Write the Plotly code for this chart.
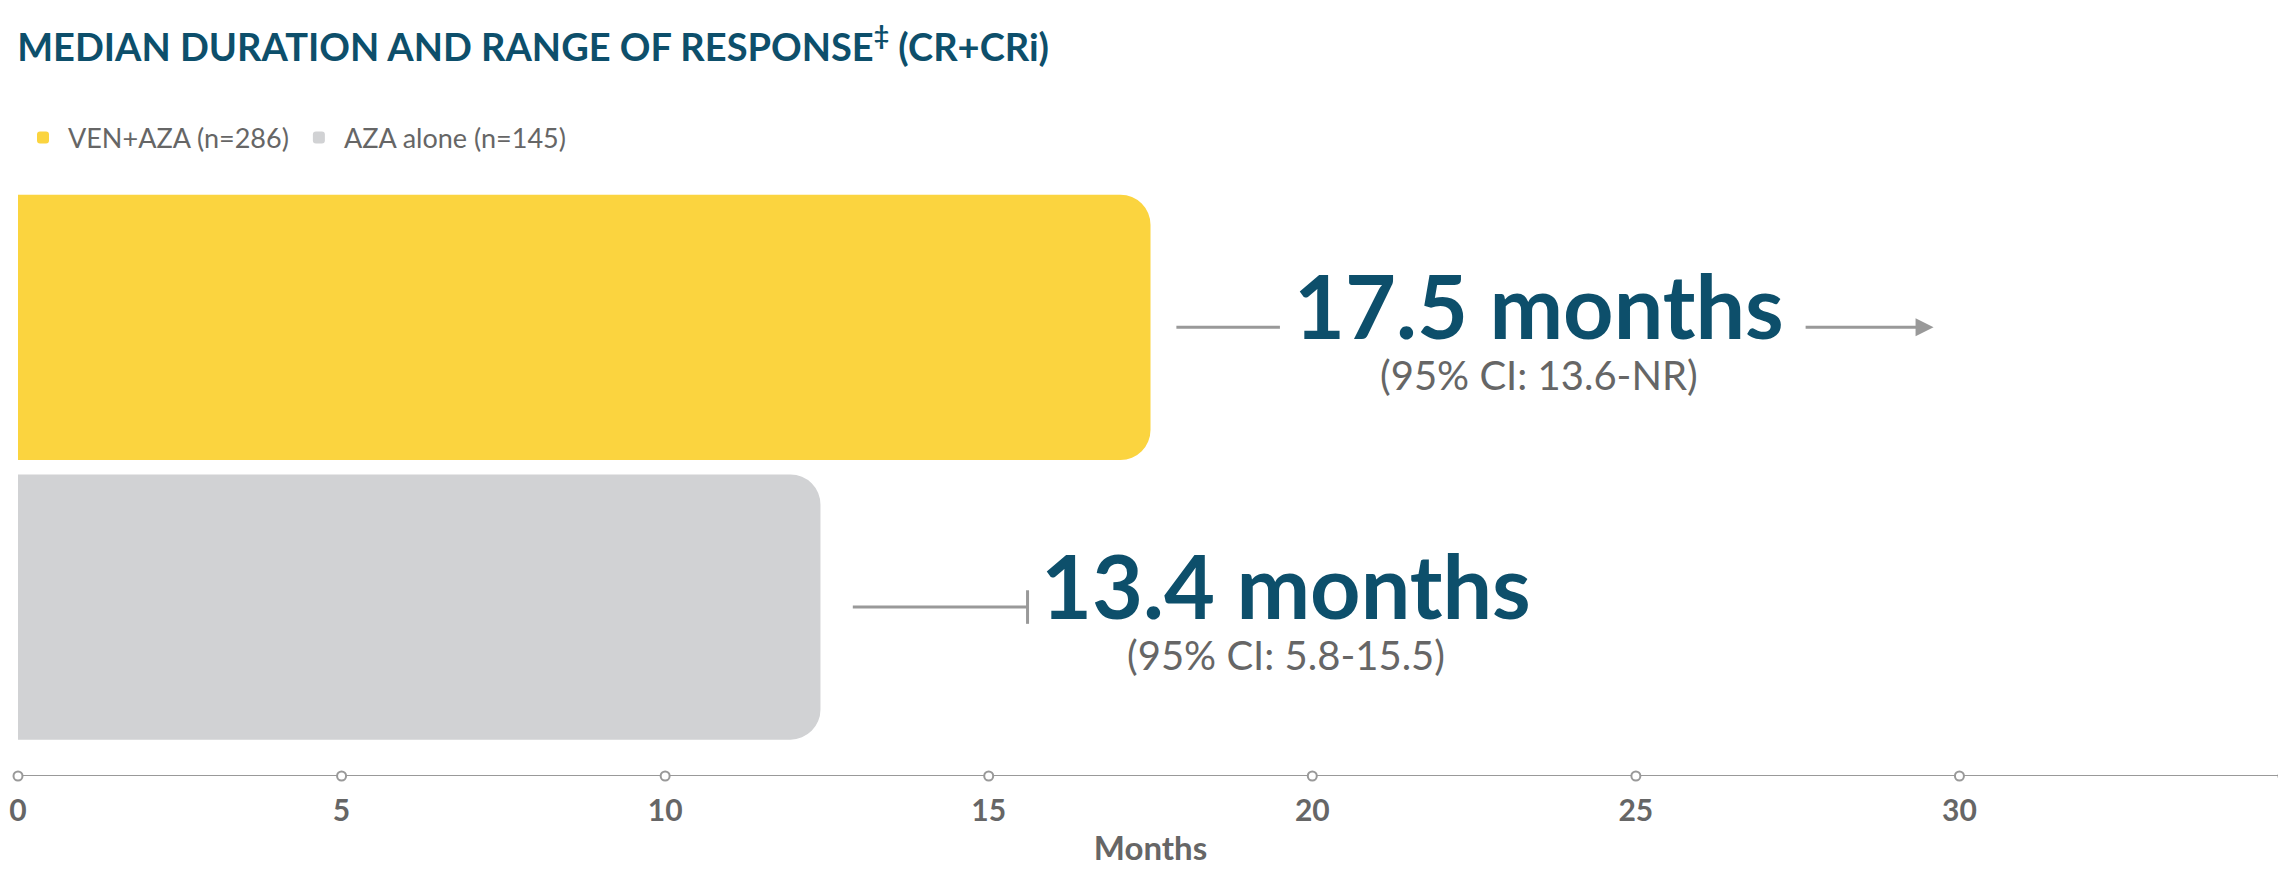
import plotly.graph_objects as go

groups = ["VEN+AZA (n=286)", "AZA alone (n=145)"]
bar_months = [17.5, 12.4]
bar_pos = [1, 0]
colors = ["#fbd43f", "#d1d2d4"]
medians = ["17.5 months", "13.4 months"]
ci_texts = ["(95% CI: 13.6-NR)", "(95% CI: 5.8-15.5)"]
label_x = [23.5, 19.6]
# range line segments (start, end) per group; gap left for the label
seg1 = [(17.9, 19.5), (12.9, 15.6)]
seg2 = [(27.6, 29.6), None]
ticks = [0, 5, 10, 15, 20, 25, 30, 35]

teal = "#0d4f6b"
grey = "#999999"
ybot = -0.604

fig = go.Figure()
for g, v, p, c in zip(groups, bar_months, bar_pos, colors):
    fig.add_trace(go.Bar(x=[v], y=[p], orientation="h", name=g, width=0.948,
                         marker=dict(color=c, line_width=0), hoverinfo="skip"))

for i, p in enumerate(bar_pos):
    a, b = seg1[i]
    fig.add_trace(go.Scatter(x=[a, b], y=[p, p], mode="lines", showlegend=False,
                             line=dict(color=grey, width=3), hoverinfo="skip"))
    fig.add_annotation(x=label_x[i], y=p + 0.08, text="<b>" + medians[i] + "</b>",
                       showarrow=False, font=dict(size=88, color=teal, family="Lato"))
    fig.add_annotation(x=label_x[i], y=p - 0.17, text=ci_texts[i], showarrow=False,
                       font=dict(size=40, color="#666666", family="Lato"))
    if seg2[i]:
        a2, b2 = seg2[i]
        fig.add_annotation(x=b2, y=p, ax=a2, ay=p, axref="x", ayref="y", text="",
                           showarrow=True, arrowhead=2, arrowsize=1.2, arrowwidth=3,
                           arrowcolor=grey)
    else:
        fig.add_trace(go.Scatter(x=[b, b], y=[p - 0.06, p + 0.06], mode="lines",
                                 showlegend=False, line=dict(color=grey, width=3),
                                 hoverinfo="skip"))

fig.add_trace(go.Scatter(x=[0, 35], y=[ybot, ybot], mode="lines", showlegend=False,
                         line=dict(color=grey, width=2), cliponaxis=False, hoverinfo="skip"))
fig.add_trace(go.Scatter(x=ticks, y=[ybot] * len(ticks), mode="markers", showlegend=False,
                         marker=dict(size=9, color="white", line=dict(color=grey, width=2)),
                         cliponaxis=False, hoverinfo="skip"))

fig.update_layout(
    width=2286, height=891, plot_bgcolor="white", paper_bgcolor="white",
    margin=dict(l=10, r=11, t=175, b=123, autoexpand=False),
    barmode="overlay", barcornerradius=30,
    title=dict(text="<b>MEDIAN DURATION AND RANGE OF RESPONSE<sup>‡</sup> (CR+CRi)</b>",
               x=0.004, xanchor="left", y=0.955, yanchor="middle",
               font=dict(size=38, color=teal, family="Lato")),
    legend=dict(orientation="h", x=0, y=1.076, xanchor="left", yanchor="middle",
                font=dict(size=27, color="#666666", family="Lato"), itemsizing="constant",
                itemwidth=40, tracegroupgap=60),
    xaxis=dict(range=[0, 35], tickvals=ticks, showgrid=False, zeroline=False, automargin=False,
               showline=False, ticks="", ticklabelstandoff=14,
               tickfont=dict(size=30, color="#666666", family="Lato", weight="bold"),
               title=dict(text="<b>Months</b>", font=dict(size=33, color="#666666", family="Lato"),
                          standoff=10)),
    yaxis=dict(range=[ybot, 1.516], visible=False),
)
fig.write_html("out.html")
